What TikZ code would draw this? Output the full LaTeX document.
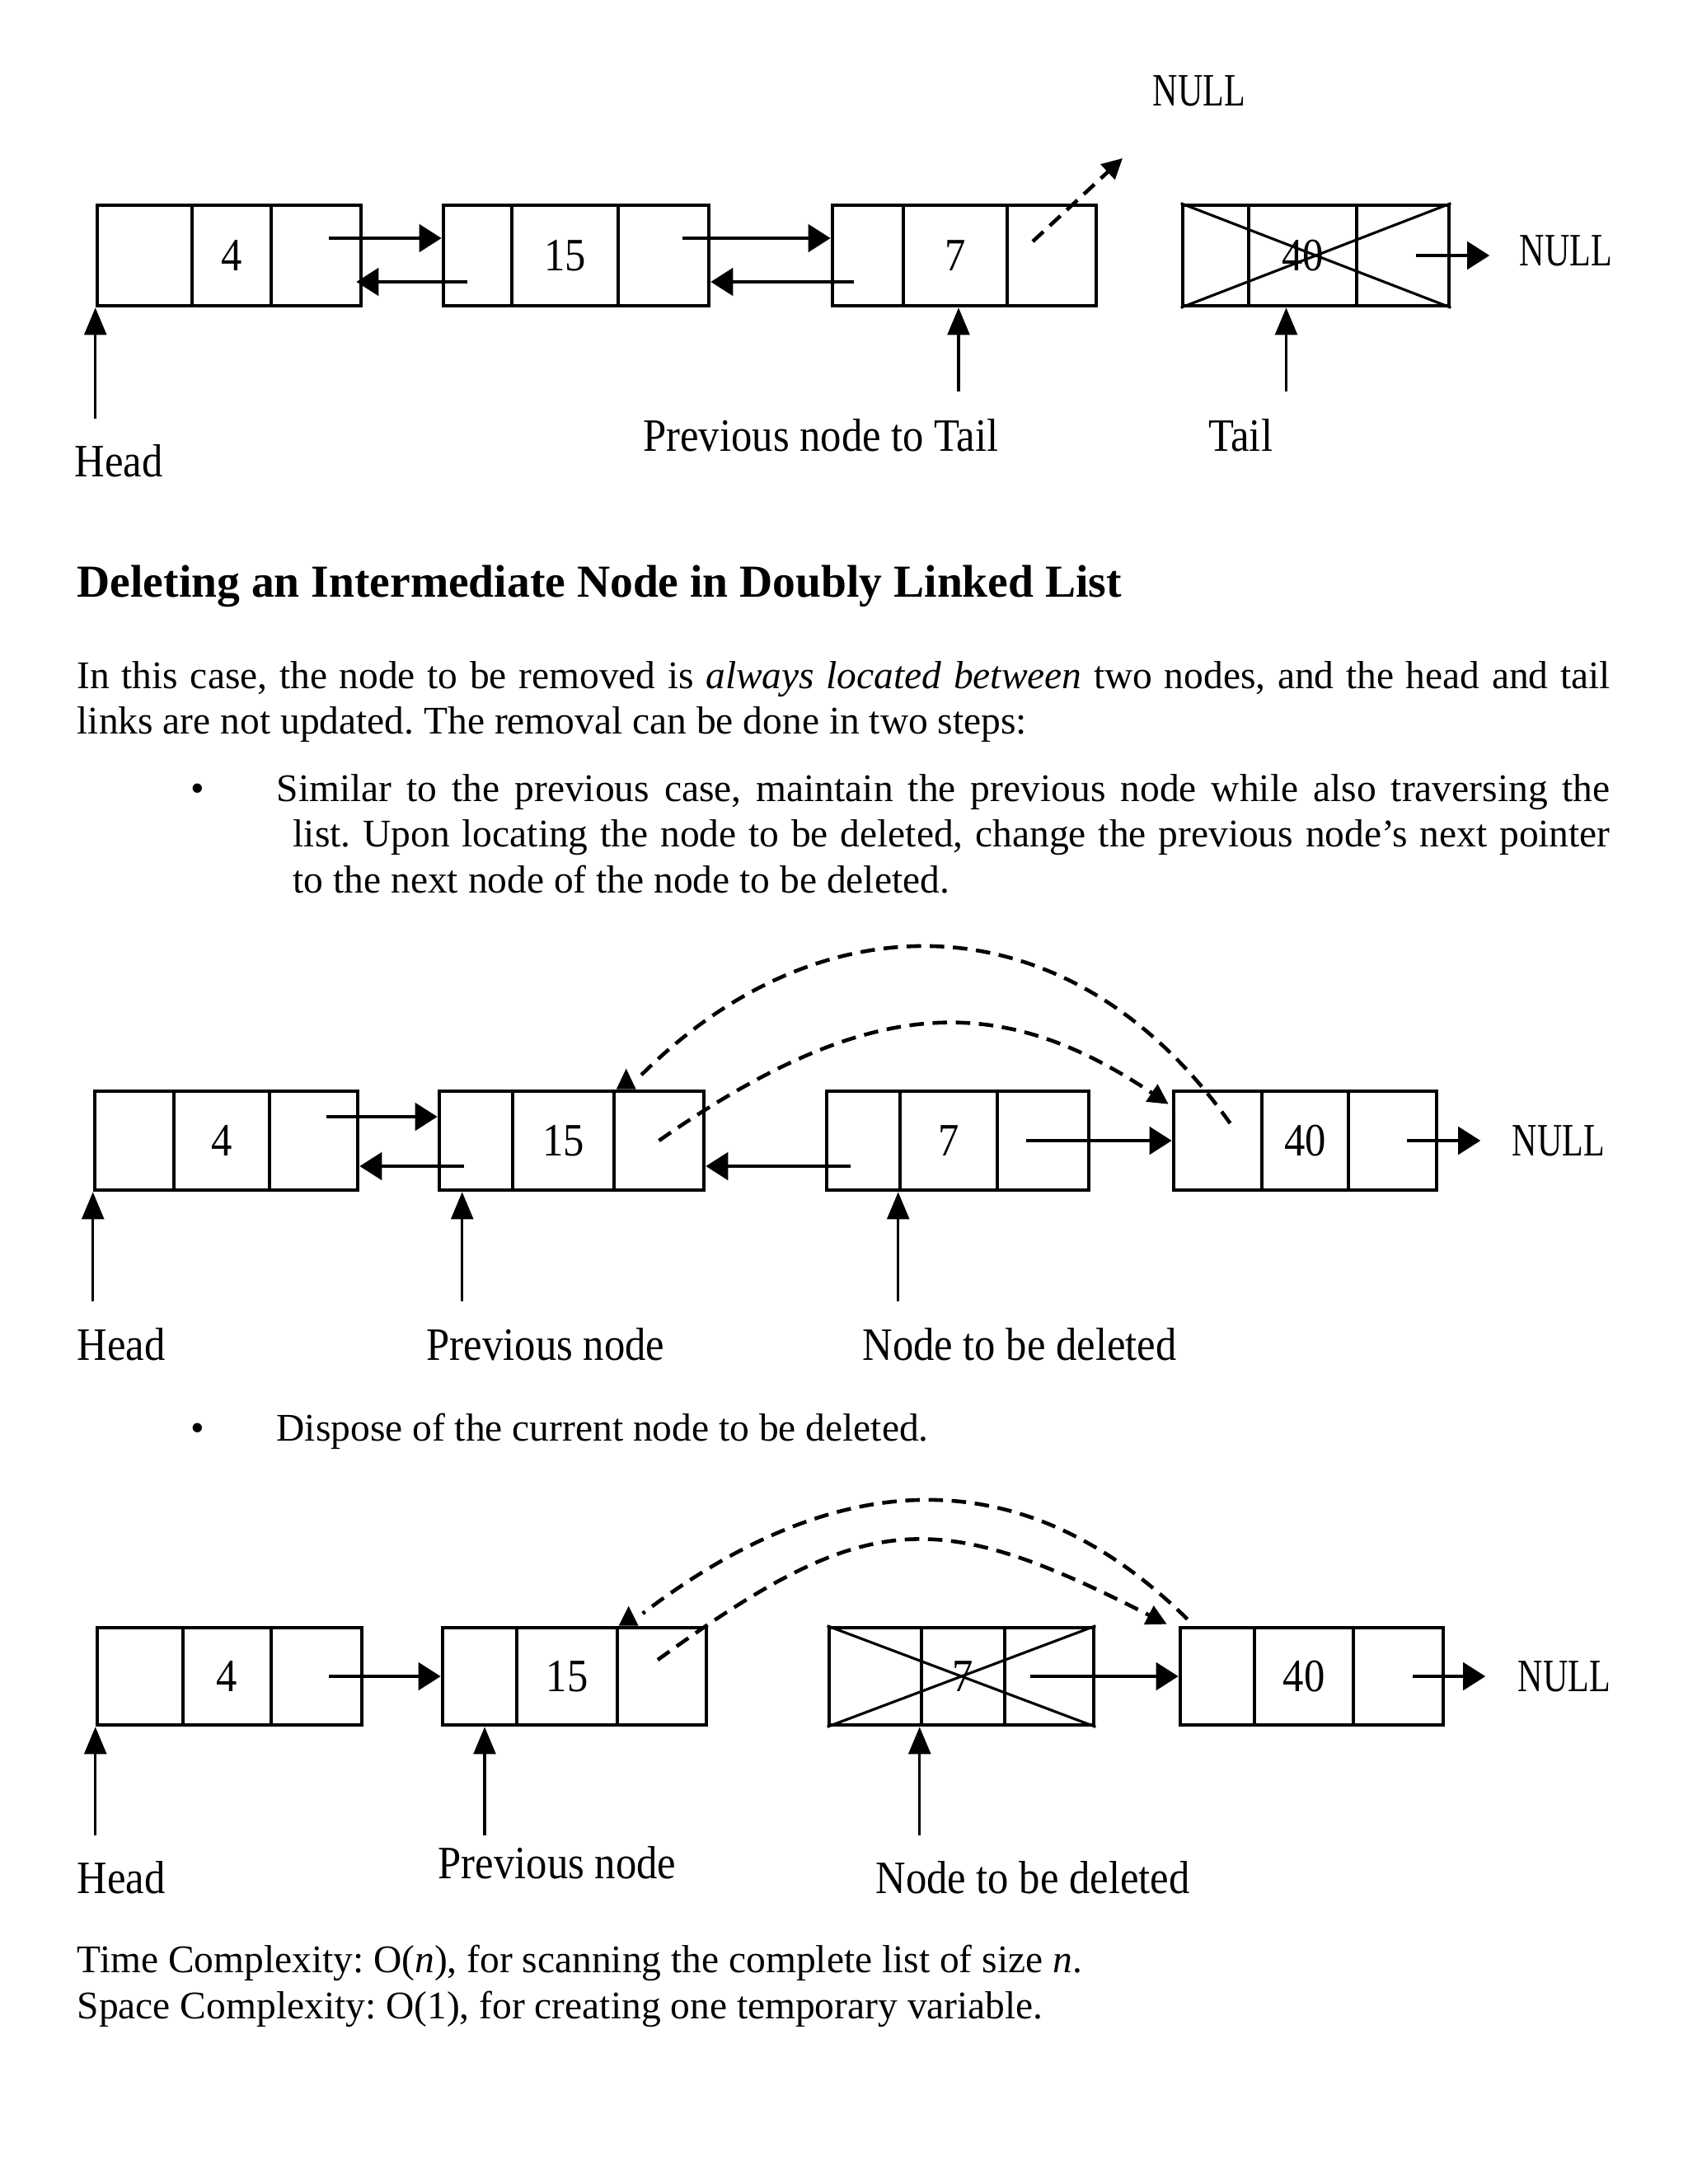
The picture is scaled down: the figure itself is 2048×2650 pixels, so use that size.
\documentclass[tikz,border=0pt]{standalone}
\usepackage{fontspec}
\usepackage{graphicx}
\setmainfont{Liberation Serif}
\newfontfamily\diagserif[FakeStretch=0.9]{Liberation Serif}
\usetikzlibrary{arrows.meta,positioning,calc,fit}
\frenchspacing

\newcommand{\diagfont}{\diagserif\fontsize{16}{19}\selectfont}
\newcommand{\bodyfont}{\fontsize{13.5}{15.9}\selectfont}
\newcommand{\nulltxt}{\scalebox{0.83}[1]{NULL}}

% one list node of three cells: name, x0..x3, top, bottom, value
\newcommand{\dllnode}[8]{%
  \node[cell, fit={(#2,#6) (#3,#7)}] (#1p) {};
  \node[cell, fit={(#3,#6) (#4,#7)}] (#1d) {};
  \node[cell, fit={(#4,#6) (#5,#7)}] (#1n) {};
  \node[lbl] (#1v) at (#1d.center) {#8};
}

\begin{document}
\begin{tikzpicture}[x=0.01cm, y=-0.01cm,
  cell/.style={draw, line width=1.3pt, inner sep=0pt},
  link/.style={line width=1.4pt, -{Triangle[length=7.7pt,width=9.4pt]}},
  ptr/.style={line width=1pt, -{Triangle[length=9.4pt,width=7.6pt]}},
  dasharc/.style={line width=1.3pt, dash pattern=on 5pt off 3pt},
  dashtip/.style={dasharc, -{Triangle[length=7pt,width=7pt]}},
  cross/.style={line width=0.9pt},
  lbl/.style={font=\diagfont, inner sep=0pt},
  txt/.style={font=\bodyfont, inner sep=0pt, anchor=base west}]
\useasboundingbox (0,0) rectangle (2048,2650);

% Deleting the last node
\dllnode{a1}{118}{233}{329}{438}{249}{371}{4}
\dllnode{b1}{538}{621}{750}{860}{249}{371}{15}
\dllnode{c1}{1010}{1096}{1222}{1330}{249}{371}{7}
\dllnode{d1}{1435}{1515}{1646}{1758}{249}{371}{40}
\draw[cross] (d1p.north west) -- (d1n.south east);
\draw[cross] (d1p.south west) -- (d1n.north east);
\draw[link] ($(a1n.center)+(15,-21)$) -- ($(b1p.west)+(0,-21)$);
\draw[link] ($(b1p.center)+(-13,32)$) -- ($(a1n.east)+(-8,32)$);
\draw[link] ($(b1n.center)+(23,-21)$) -- ($(c1p.west)+(0,-21)$);
\draw[link] ($(c1p.center)+(-17,32)$) -- ($(b1n.east)+(0,32)$);
\draw[link] ($(d1n.center)+(16,0)$) -- ($(d1n.east)+(47,0)$);
\coordinate (c1up) at (1362,192);
\draw[dashtip] ($(c1n.center)+(-23,-17)$) -- (c1up);
\node[lbl] (nul1a) at (1455,110) {\nulltxt};
\node[lbl, anchor=west] (nul1b) at (1843,304) {\nulltxt};
\node[lbl] (hd1) at (144,559) {Head};
\node[lbl] (pt1) at (996,528) {Previous node to Tail};
\node[lbl] (tl1) at (1505,528) {Tail};
\draw[ptr] ($(a1p.south west)+(0,135)$) -- (a1p.south west);
\draw[ptr] ($(c1d.south)+(4,102)$) -- ($(c1d.south)+(4,0)$);
\draw[ptr] ($(d1d.south)+(-20,102)$) -- ($(d1d.south)+(-20,0)$);

% Text
\node[txt, font=\bfseries\fontsize{15.8}{19}\selectfont] (ttl) at (93,724) {Deleting an Intermediate Node in Doubly Linked List};
\node[txt, text width=18.59cm, align=justify] (par1) at (93,835) {In this case, the node to be removed is \textit{always located between} two nodes, and the head and tail\linebreak links are not updated. The removal can be done in two steps:};
\node[txt] (bul1) at (231,972) {\textbullet};
\node[txt, text width=15.97cm, align=justify] (par2) at (355,972) {\hspace*{-0.2cm}Similar to the previous case, maintain the previous node while also traversing the\linebreak list. Upon locating the node to be deleted, change the previous node’s next pointer\linebreak to the next node of the node to be deleted.};

% Step 1: relink around the node
\dllnode{a2}{115}{211}{327}{434}{1324}{1444}{4}
\dllnode{b2}{533}{622}{745}{854}{1324}{1444}{15}
\dllnode{c2}{1003}{1092}{1210}{1321}{1324}{1444}{7}
\dllnode{d2}{1424}{1531}{1636}{1743}{1324}{1444}{40}
\draw[link] ($(a2n.center)+(15,-29)$) -- ($(b2p.west)+(0,-29)$);
\draw[link] ($(b2p.center)+(-15,31)$) -- ($(a2n.east)+(0,31)$);
\draw[link] ($(c2p.center)+(-16,31)$) -- ($(b2n.east)+(0,31)$);
\draw[link] ($(c2n.center)+(-21,0)$) -- (d2p.west);
\draw[link] ($(d2n.center)+(17,0)$) -- ($(d2n.east)+(51,0)$);
\draw[dasharc] ($(d2p.center)+(15,-21)$) .. controls +(-193,-273) and +(223,-225) .. ($(b2n.north west)+(32,-14)$);
\fill ($(b2n.north west)+(5,0)$) -- ++(24,0) -- ++(-12,-25) -- cycle;
\draw[dashtip] (b2n.center) .. controls +(256,-179) and +(-204,-137) .. ($(d2p.north west)+(-4,18)$);
\node[lbl, anchor=west] (nul2) at (1834,1384) {\nulltxt};
\node[lbl] (hd2) at (147,1631) {Head};
\node[lbl] (pv2) at (662,1631) {Previous node};
\node[lbl] (dl2) at (1237,1631) {Node to be deleted};
\draw[ptr] ($(a2p.south west)+(0,133)$) -- (a2p.south west);
\draw[ptr] ($(b2p.south west)+(30,133)$) -- ($(b2p.south west)+(30,0)$);
\draw[ptr] ($(c2d.south west)+(0,133)$) -- (c2d.south west);

\node[txt] (bul2) at (231,1748) {\textbullet};
\node[txt] (par3) at (335,1748) {Dispose of the current node to be deleted.};

% Step 2: dispose of the node
\dllnode{a3}{118}{222}{329}{439}{1975}{2093}{4}
\dllnode{b3}{537}{627}{749}{857}{1975}{2093}{15}
\dllnode{c3}{1006}{1118}{1219}{1327}{1975}{2093}{7}
\dllnode{d3}{1432}{1522}{1642}{1751}{1975}{2093}{40}
\draw[cross] (c3p.north west) -- (c3n.south east);
\draw[cross] (c3p.south west) -- (c3n.north east);
\draw[link] ($(a3n.center)+(15,0)$) -- (b3p.west);
\draw[link] ($(c3n.center)+(-23,0)$) -- (d3p.west);
\draw[link] ($(d3n.center)+(17,0)$) -- ($(d3n.east)+(49,0)$);
\draw[dasharc] ($(d3p.north west)+(11,-8)$) .. controls +(-195,-192) and +(243,-185) .. ($(b3n.north west)+(33,-15)$);
\fill ($(b3n.north west)+(4,0)$) -- ++(24,0) -- ++(-12,-24) -- cycle;
\draw[dashtip] ($(b3n.center)+(-5,-20)$) .. controls +(253,-183) and +(-283,-144) .. ($(d3p.north west)+(-14,-2)$);
\node[lbl, anchor=west] (nul3) at (1841,2034) {\nulltxt};
\node[lbl] (hd3) at (147,2278) {Head};
\node[lbl] (pv3) at (676,2260) {Previous node};
\node[lbl] (dl3) at (1253,2278) {Node to be deleted};
\draw[ptr] ($(a3p.south west)+(0,132)$) -- (a3p.south west);
\draw[ptr] ($(b3p.south)+(6,132)$) -- ($(b3p.south)+(6,0)$);
\draw[ptr] ($(c3d.south west)+(0,132)$) -- (c3d.south west);

\node[txt] (tc) at (93,2393) {Time Complexity: O(\textit{n}), for scanning the complete list of size \textit{n}.};
\node[txt] (sc) at (93,2449) {Space Complexity: O(1), for creating one temporary variable.};
\end{tikzpicture}
\end{document}
